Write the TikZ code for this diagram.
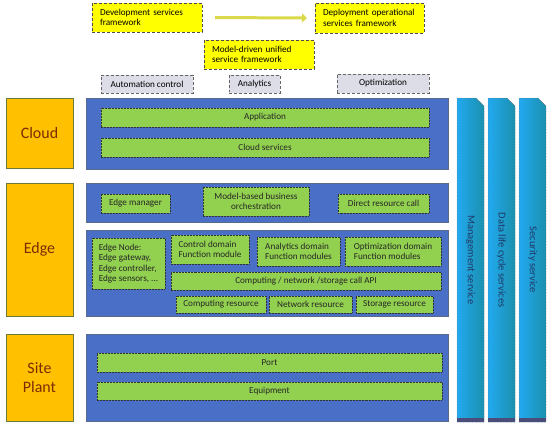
\documentclass[tikz,border=0pt]{standalone}
\usepackage{fontspec}
\setmainfont{Carlito}
\usetikzlibrary{arrows.meta,shapes.misc}
\definecolor{ylw}{HTML}{FFFF00}
\definecolor{gry}{HTML}{DCDDE6}
\definecolor{org}{HTML}{FFC000}
\definecolor{orgline}{HTML}{6B7A3A}
\definecolor{orgtext}{HTML}{7B2C00}
\definecolor{pnl}{HTML}{4A6FC6}
\definecolor{pnlline}{HTML}{5B6B8B}
\definecolor{grn}{HTML}{92D050}
\definecolor{coltop}{HTML}{22A9F0}
\definecolor{colbot}{HTML}{1B90AE}
\definecolor{coltxt}{HTML}{1F3864}
\definecolor{arrcol}{HTML}{D9D94A}
\tikzset{
  base/.style={inner sep=0pt, outer sep=0pt, font=\fontsize{9.2}{10.5}\selectfont},
  ybox/.style={base, fill=ylw, draw=black!70, densely dashed, line width=0.5pt, align=left, inner xsep=8bp},
  gbox/.style={base, fill=gry, draw=black!60, densely dashed, line width=0.5pt, align=center},
  lbox/.style={base, fill=org, draw=orgline, line width=0.8pt, text=orgtext, align=center, font=\fontsize{16}{19}\selectfont},
  panel/.style={base, fill=pnl, draw=pnlline, line width=0.5pt},
  gnbox/.style={base, fill=grn, draw=black!80, densely dotted, line width=0.5pt, text=black!85, align=center},
  gnleft/.style={gnbox, align=left},
  colbox/.style={base, chamfered rectangle, chamfered rectangle corners=north west, chamfered rectangle xsep=4bp, chamfered rectangle ysep=4bp,
     left color=coltop, right color=colbot, draw=black!55, densely dotted, line width=0.5pt, text=coltxt, rotate=-90,
     minimum width=324bp, minimum height=27bp, font=\fontsize{10.5}{12}\selectfont},
  arr/.style={line width=3pt, arrcol, -{Triangle[length=5bp,width=9bp]}}
}
\begin{document}
\begin{tikzpicture}[x=1bp,y=-1bp]
\useasboundingbox (0,0) rectangle (550,427);
\fill[white] (0,0) rectangle (550,427);
% top framework boxes
\node[ybox, text width=94bp, minimum height=29bp] (dev) at (147,17.5) {Development services\\framework};
\node[ybox, text width=93bp, minimum height=30bp] (deploy) at (369.5,18) {Deployment operational\\services framework};
\node[ybox, text width=94bp, minimum height=29bp] (model) at (259,54.5) {Model-driven unified\\service framework};
\draw[arr, shorten <=13bp, shorten >=8bp] (dev.east) -- (deploy.west);
% grey boxes
\node[gbox, minimum width=92bp, minimum height=18bp] (autom) at (147,84) {Automation control};
\node[gbox, minimum width=51bp, minimum height=18bp] (analy) at (254.5,84) {Analytics};
\node[gbox, minimum width=92bp, minimum height=19bp] (optim) at (383,83.5) {Optimization};
% cloud layer
\node[lbox, minimum width=67bp, minimum height=70bp] (cloud) at (39.5,133) {Cloud};
\node[panel, minimum width=362bp, minimum height=71bp] (cloudp) at (267,133.5) {};
\node[gnbox, minimum width=328bp, minimum height=19bp] (app) at (265,117.5) {Application};
\node[gnbox, minimum width=328bp, minimum height=19bp] (csvc) at (265,147.5) {Cloud services};
% edge layer
\node[lbox, minimum width=67bp, minimum height=133bp] (edge) at (39.5,249.5) {Edge};
\node[panel, minimum width=362bp, minimum height=39bp] (edgep1) at (267,202.5) {};
\node[gnbox, minimum width=69bp, minimum height=19bp] (emgr) at (135.5,203.5) {Edge manager};
\node[gnbox, minimum width=106bp, minimum height=29bp] (mbiz) at (256,201.5) {Model-based business\\orchestration};
\node[gnbox, minimum width=91bp, minimum height=19bp] (direct) at (383.5,203.5) {Direct resource call};
\node[panel, minimum width=362bp, minimum height=86bp] (edgep2) at (267,273) {};
\node[gnleft, minimum width=73bp, minimum height=51bp] (enode) at (128.5,263.5) {Edge Node:\\Edge gateway,\\Edge controller,\\Edge sensors, ...};
\node[gnleft, minimum width=78bp, minimum height=29bp] (ctrl) at (210,249.5) {Control domain\\Function module};
\node[gnleft, minimum width=83bp, minimum height=29bp] (anad) at (298.5,251.5) {Analytics domain\\Function modules};
\node[gnleft, minimum width=96bp, minimum height=29bp] (optd) at (393,251.5) {Optimization domain\\Function modules};
\node[gnbox, minimum width=270bp, minimum height=18bp] (api) at (306,281) {Computing / network /storage call API};
\node[gnbox, minimum width=90bp, minimum height=17bp] (comp) at (221,304.5) {Computing resource};
\node[gnbox, minimum width=83bp, minimum height=17bp] (net) at (310.5,304.5) {Network resource};
\node[gnbox, minimum width=77bp, minimum height=17bp] (stor) at (394.5,304.5) {Storage resource};
% site plant layer
\node[lbox, minimum width=67bp, minimum height=87bp] (site) at (39.5,377.5) {Site\\Plant};
\node[panel, minimum width=362bp, minimum height=87bp] (sitep) at (267,377.5) {};
\node[gnbox, minimum width=345bp, minimum height=19bp] (port) at (269.5,362.5) {Port};
\node[gnbox, minimum width=345bp, minimum height=18bp] (equip) at (269.5,391) {Equipment};
% vertical service columns
\node[colbox] (mgmt) at (470.5,260) {Management service};
\node[colbox] (dlc) at (501.5,260) {Data life cycle services};
\node[colbox] (sec) at (532.5,260) {Security service};
\foreach \cx in {457,488,519}{
  \fill[black!55!blue!40!gray] (\cx,418) rectangle ++(27,4);
}
\end{tikzpicture}
\end{document}
